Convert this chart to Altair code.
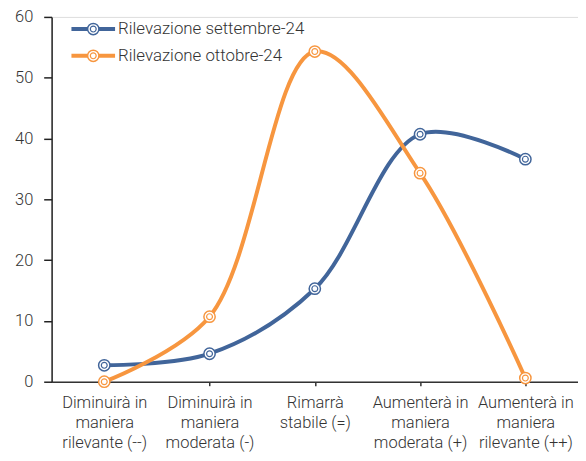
import altair as alt
import pandas as pd

categories = [
    "Diminuirà in|maniera|rilevante (--)",
    "Diminuirà in|maniera|moderata (-)",
    "Rimarrà|stabile (=)",
    "Aumenterà in|maniera|moderata (+)",
    "Aumenterà in|maniera|rilevante (++)",
]
series_names = ["Rilevazione settembre-24", "Rilevazione ottobre-24"]
sett = [2.7, 4.6, 15.3, 40.7, 36.6]
ott = [0.0, 10.7, 54.3, 34.3, 0.6]
colors = ["#41659a", "#f7963f"]
legend_rows = [58.0, 53.6]

rows = []
for i, c in enumerate(categories):
    rows.append({"cat": c, "serie": series_names[0], "v": sett[i], "o": i})
    rows.append({"cat": c, "serie": series_names[1], "v": ott[i], "o": i})
df = pd.DataFrame(rows)

color_scale = alt.Scale(domain=series_names, range=colors)
x = alt.X("cat:N", sort=categories, title=None,
          scale=alt.Scale(paddingInner=0, paddingOuter=0.5),
          axis=alt.Axis(labelExpr="split(datum.label, '|')", labelAngle=0,
                        labelFontSize=16.6, labelColor="#333333", labelFont="Roboto",
                        labelFontWeight=300,
                        labelLineHeight=20, labelPadding=9, labelBaseline="top",
                        domainColor="#333333", domainWidth=1.5, tickColor="#333333",
                        tickSize=4, tickWidth=1.5, grid=False, labelLimit=200))
y = alt.Y("v:Q", title=None, scale=alt.Scale(domain=[0, 60], nice=False),
          axis=alt.Axis(values=[0, 10, 20, 30, 40, 50, 60], labelFontSize=16.6,
                        labelColor="#333333", labelFont="Roboto", labelFontWeight=300,
                        labelPadding=11,
                        domainColor="#222222", domainWidth=1.5, tickColor="#222222",
                        tickSize=8, tickWidth=1.5, grid=False))

base = alt.Chart(df)
lines = base.mark_line(interpolate="catmull-rom", strokeWidth=4).encode(
    x=x, y=y, color=alt.Color("serie:N", scale=color_scale, legend=None),
    detail="serie:N", order="o:Q")
outer = base.mark_point(shape="circle", size=130, filled=True, fill="white",
                        strokeWidth=1.5, opacity=1).encode(
    x=x, y=y, stroke=alt.Stroke("serie:N", scale=color_scale, legend=None))
inner = base.mark_point(shape="circle", size=35, filled=True, fill="white",
                        strokeWidth=1.2, opacity=1).encode(
    x=x, y=y, stroke=alt.Stroke("serie:N", scale=color_scale, legend=None))

# legend drawn inside the plot
leg = pd.DataFrame({"serie": series_names, "v": legend_rows})
lbase = alt.Chart(leg)
ly = alt.Y("v:Q")
lrule = lbase.mark_rule(strokeWidth=4).encode(
    x=alt.value(20), x2=alt.value(64), y=ly,
    color=alt.Color("serie:N", scale=color_scale, legend=None))
lout = lbase.mark_point(shape="circle", size=130, filled=True, fill="white",
                        strokeWidth=1.5, opacity=1).encode(
    x=alt.value(42), y=ly,
    stroke=alt.Stroke("serie:N", scale=color_scale, legend=None))
lin = lbase.mark_point(shape="circle", size=35, filled=True, fill="white",
                       strokeWidth=1.2, opacity=1).encode(
    x=alt.value(42), y=ly,
    stroke=alt.Stroke("serie:N", scale=color_scale, legend=None))
ltext = lbase.mark_text(align="left", baseline="middle", fontSize=17,
                        font="Roboto", fontWeight=300, color="#333333").encode(
    x=alt.value(67), y=ly, text="serie:N")

chart = alt.layer(lines, outer, inner, lrule, lout, lin, ltext).properties(
    width=531, height=368,
    autosize=alt.AutoSizeParams(type="none"),
    padding={"left": 44, "top": 7, "right": 0, "bottom": 80},
).configure_view(stroke=None).configure(background="white")

chart.save("out.html", embed_options={"renderer": "svg", "actions": False})
